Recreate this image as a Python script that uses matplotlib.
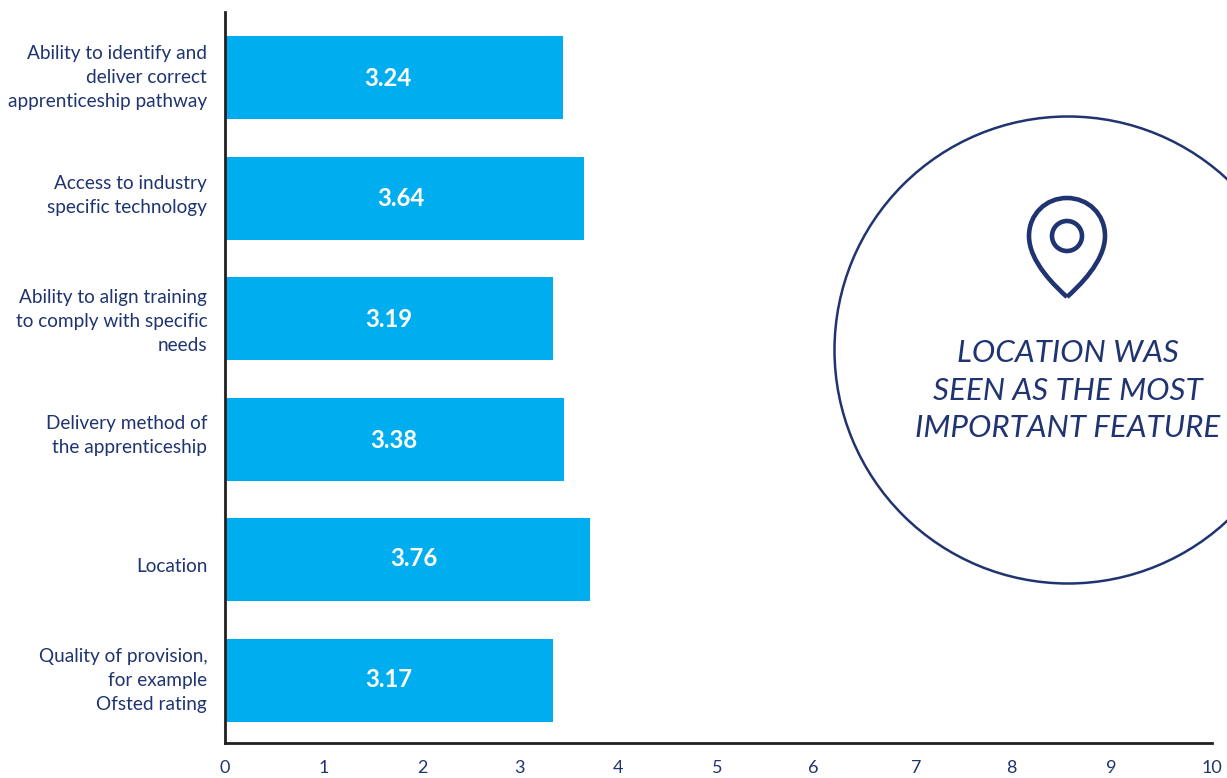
import matplotlib
matplotlib.use("Agg")
import matplotlib.pyplot as plt
from matplotlib.patches import Circle, PathPatch
from matplotlib.path import Path
from matplotlib.transforms import Affine2D

categories = ["Ability to identify and\ndeliver correct\napprenticeship pathway",
              "Access to industry\nspecific technology",
              "Ability to align training\nto comply with specific\nneeds",
              "Delivery method of\nthe apprenticeship",
              "Location",
              "Quality of provision,\nfor example\nOfsted rating"]
bar_lengths = [3.42, 3.64, 3.32, 3.43, 3.70, 3.32]
value_labels = ["3.24", "3.64", "3.19", "3.38", "3.76", "3.17"]
label_positions = [1.65, 1.78, 1.66, 1.71, 1.91, 1.66]
label_offsets = [0.006, 0.006, 0.006, 0.006, -0.01, -0.012]
category_offsets = [-0.045, -0.066, -0.021, -0.07, 0.045, -0.045]
tick_labels = ["0", "1", "2", "3", "4", "5", "6", "7", "8", "9", "10"]
tick_positions = [0, 1, 2, 2.98, 3.98, 4.99, 5.96, 7, 7.97, 8.98, 10]
callout = "LOCATION WAS\nSEEN AS THE MOST\nIMPORTANT FEATURE"

W, H = 1227, 778
NAVY = "#1f3470"
BLUE = "#00aeef"
plt.rcParams["font.family"] = ["Lato", "DejaVu Sans"]

fig = plt.figure(figsize=(W / 100, H / 100), dpi=100)
ax = fig.add_axes([225 / W, 1 - 743 / H, (1212 - 225) / W, (743 - 12) / H])
ax.barh(range(6), bar_lengths, height=0.688, color=BLUE)
ax.set_xlim(0, 10)
ax.set_ylim(5.518, -0.543)
for i, (t, x, o) in enumerate(zip(value_labels, label_positions, label_offsets)):
    ax.text(x, i + o, t, color="white", fontsize=17.2, fontweight="bold", ha="center", va="center")
for s in ("top", "right"):
    ax.spines[s].set_visible(False)
for s in ("left", "bottom"):
    ax.spines[s].set_linewidth(2.0)
    ax.spines[s].set_color("#231f20")
ax.set_xticks(tick_positions)
ax.set_xticklabels(tick_labels)
ax.tick_params(axis="x", length=0, pad=12, labelsize=13, labelcolor=NAVY)
ax.set_yticks([i + o for i, o in enumerate(category_offsets)])
ax.set_yticklabels(categories, fontsize=13.7, color=NAVY, ha="right", linespacing=1.5)
ax.tick_params(axis="y", length=0, pad=12.8)

# pixel coordinate overlay (y downward)
px = Affine2D().scale(1, -1).translate(0, H) + Affine2D().scale(fig.dpi / 100)
fig.add_artist(Circle((1068, 350), 233.5, transform=px, fill=False, edgecolor=NAVY, linewidth=1.8))

pin_verts = [(1067, 297), (1056, 287), (1029, 262), (1029, 236),
             (1029, 214), (1046, 198), (1067, 198),
             (1088, 198), (1105, 214), (1105, 236),
             (1105, 262), (1078, 287), (1067, 297)]
pin_codes = [Path.MOVETO] + [Path.CURVE4] * 12
fig.add_artist(PathPatch(Path(pin_verts, pin_codes), transform=px, fill=False,
                         edgecolor=NAVY, linewidth=3.3, joinstyle="round"))
fig.add_artist(Circle((1067, 236), 15, transform=px, fill=False, edgecolor=NAVY, linewidth=3.3))

fig.text(1068 / W, 1 - 390.5 / H, callout, color=NAVY, fontsize=22.6, style="italic",
         ha="center", va="center", linespacing=1.43)
fig.savefig("out.png", dpi=100)
